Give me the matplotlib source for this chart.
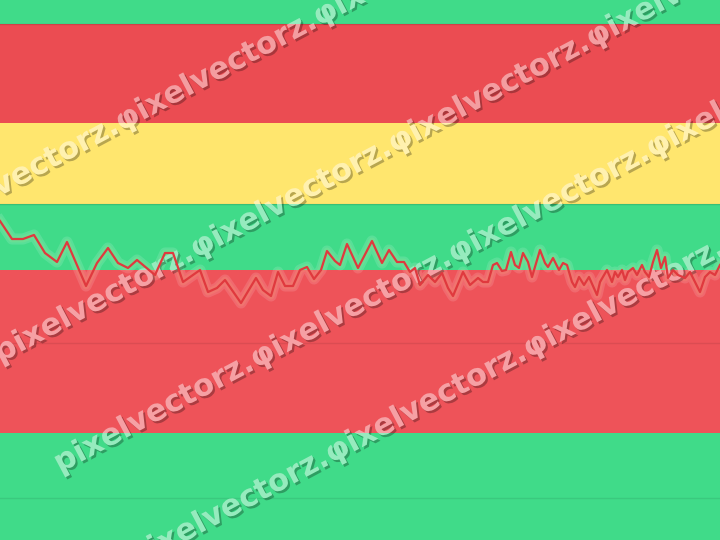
import matplotlib
matplotlib.use("Agg")
import matplotlib.pyplot as plt
import matplotlib.patheffects as pe
from matplotlib.patches import Rectangle
from matplotlib.colors import to_rgb

# ---- data ----
x_vals = [0, 12, 23, 34, 45, 57, 67, 86, 97, 108, 118, 128, 137, 155, 165, 173, 183, 200,
          208, 217, 225, 241, 256, 263, 271, 278, 285, 293, 300, 307, 314, 321, 327, 335,
          340, 347, 358, 372, 382, 389, 397, 404, 410, 415, 420, 428, 435, 442, 448, 453,
          463, 470, 478, 483, 488, 493, 497, 502, 506, 511, 515, 519, 523, 528, 532, 540,
          545, 548, 553, 559, 563, 567, 572, 575, 579, 584, 589, 597, 600, 607, 612, 615,
          618, 622, 625, 628, 633, 637, 642, 645, 649, 653, 657, 661, 665, 668, 673, 678,
          685, 690, 695, 700, 705, 710, 715, 720]
y_vals = [31.9, 30.1, 30.1, 30.5, 28.7, 27.8, 29.8, 25.4, 27.7, 29.2, 27.7, 27.2, 28.0, 26.5,
          28.7, 28.7, 25.8, 27.0, 24.8, 25.2, 26.0, 23.7, 26.2, 25.0, 24.4, 26.8, 25.4, 25.4,
          27.0, 27.3, 26.1, 27.0, 28.9, 27.9, 27.5, 29.6, 27.2, 29.9, 27.7, 29.0, 27.8, 27.8,
          26.8, 27.2, 25.5, 26.5, 25.8, 26.7, 25.2, 24.4, 26.8, 25.5, 26.2, 25.8, 25.8, 27.5,
          27.7, 26.9, 27.0, 28.8, 27.5, 27.2, 28.7, 27.8, 26.3, 29.0, 27.7, 27.3, 28.2, 27.0,
          27.7, 27.5, 25.8, 25.3, 26.3, 25.5, 26.3, 24.5, 25.8, 27.0, 25.8, 26.8, 26.3, 27.0,
          26.0, 26.8, 27.2, 26.5, 27.5, 26.8, 26.3, 27.8, 29.0, 27.2, 28.3, 26.2, 27.0, 26.5,
          26.2, 26.8, 25.8, 24.8, 26.3, 26.8, 26.5, 27.5]

band_edges = [0, 10.7, 27.0, 33.6, 41.7, 51.6, 54.0]
band_colors = ["#40DB89", "#EE5359", "#40DB89", "#FFE66E", "#EB4C52", "#40DB89"]
grid_levels = [4.2, 19.7]
edge_levels = [33.6, 51.6]

watermark = "pixelvectorz.φixelvectorz.φixelvectorz.φixelvectorz.φixelvectorz."

# ---- figure ----
W, H = 720, 540
fig = plt.figure(figsize=(7.2, 5.4), dpi=100)
ax = fig.add_axes([0, 0, 1, 1])
ax.set_xlim(0, 720)
ax.set_ylim(0, 54)
ax.axis("off")

for lo, hi, c in zip(band_edges[:-1], band_edges[1:], band_colors):
    ax.axhspan(lo, hi, color=c, lw=0, zorder=0)

for g in grid_levels:
    ax.axhline(g, color="black", alpha=0.08, lw=1, zorder=1)
for g in edge_levels:
    ax.axhline(g, color="black", alpha=0.12, lw=1, zorder=1)

# glow
ax.plot(x_vals, y_vals, color="white", alpha=0.13, lw=8, solid_joinstyle="round", zorder=2)
ax.plot(x_vals, y_vals, color="#F5E07A", alpha=0.10, lw=5, solid_joinstyle="round", zorder=2)

# watermark rows: (start x px, baseline y px)
rows = [(-75, 236), (0, 363), (60, 473), (135, 568)]
for lo, hi, c in zip(band_edges[:-1], band_edges[1:], band_colors):
    base = to_rgb(c)
    tint = tuple(b + 0.45 * (1 - b) for b in base)
    clip = Rectangle((0, lo), 720, hi - lo, transform=ax.transData)
    for sx, sy in rows:
        t = ax.text(sx / W, 1 - sy / H, watermark, transform=ax.transAxes,
                    rotation=28, rotation_mode="anchor", ha="left", va="baseline",
                    fontsize=22, fontweight="bold", color=tint, family="DejaVu Sans",
                    zorder=2.5, clip_on=True,
                    path_effects=[pe.SimplePatchShadow(offset=(1.5, -1.5),
                                                       shadow_rgbFace="black", alpha=0.28),
                                  pe.Normal()])
        t.set_clip_path(clip)

# line (drawn over the watermark)
ax.plot(x_vals, y_vals, color="#E0393E", lw=1.6, solid_joinstyle="round", zorder=3)

fig.savefig("out.png", dpi=100)
